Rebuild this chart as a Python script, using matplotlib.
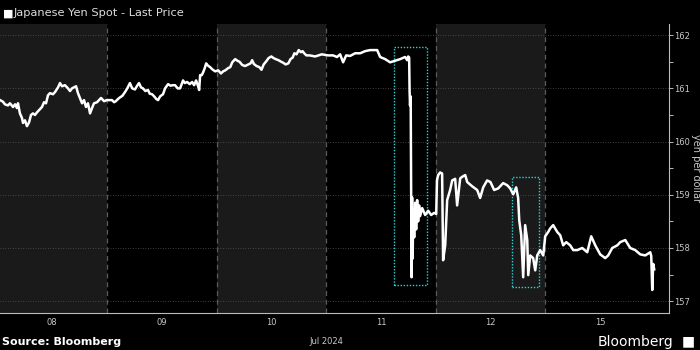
import matplotlib
matplotlib.use("Agg")
import matplotlib.pyplot as plt
from matplotlib.patches import Rectangle
from matplotlib.ticker import MultipleLocator

# ---- data (time in trading-day units from start of Jul 08; price in yen per dollar)
day_labels = ["08", "09", "10", "11", "12", "15"]
yticks = [157, 158, 159, 160, 161, 162]

t = [0.023, 0.050, 0.068, 0.096, 0.114, 0.142, 0.160, 0.178, 0.187, 0.205, 0.224, 0.233, 0.251,
     0.269, 0.288, 0.306, 0.324, 0.342, 0.361, 0.388, 0.406, 0.425, 0.443, 0.461, 0.479, 0.507,
     0.525, 0.553, 0.571, 0.589, 0.616, 0.644, 0.662, 0.680, 0.699, 0.717, 0.735, 0.753, 0.772,
     0.790, 0.808, 0.826, 0.845, 0.863, 0.881, 0.909, 0.927, 0.945, 0.973, 1.0,
     1.02, 1.045, 1.065, 1.081, 1.10, 1.118, 1.14, 1.164, 1.185, 1.209, 1.23, 1.255, 1.275, 1.292,
     1.31, 1.328, 1.35, 1.374, 1.39, 1.411, 1.43, 1.45, 1.466, 1.485, 1.511, 1.53, 1.557, 1.58, 1.60,
     1.621, 1.645, 1.667, 1.694, 1.71, 1.731, 1.755, 1.777, 1.795, 1.813, 1.83, 1.841, 1.85, 1.865,
     1.877, 1.892, 1.905, 1.92, 1.941, 1.96, 1.987, 2.015,
     2.04, 2.06, 2.08, 2.105, 2.125, 2.143, 2.17, 2.19, 2.21, 2.234, 2.26, 2.28, 2.31, 2.325, 2.34,
     2.365, 2.39, 2.41, 2.43, 2.45, 2.475, 2.50, 2.52, 2.54, 2.565, 2.59, 2.61, 2.63, 2.655, 2.675,
     2.695, 2.71, 2.73, 2.75, 2.77, 2.785, 2.80, 2.82, 2.85, 2.90, 2.96,
     3.018, 3.064, 3.10, 3.128, 3.155, 3.183, 3.219, 3.265, 3.311, 3.356, 3.402, 3.466, 3.493, 3.539,
     3.584, 3.63, 3.676, 3.721, 3.74, 3.749, 3.758, 3.762, 3.766, 3.772,
     3.776, 3.78, 3.785, 3.79, 3.795, 3.804, 3.813, 3.822, 3.831, 3.84, 3.849, 3.858, 3.877, 3.904,
     3.932, 3.959, 3.986,
     4.005, 4.012, 4.023, 4.041, 4.059, 4.068, 4.087, 4.105, 4.132, 4.151, 4.178, 4.196, 4.224, 4.251,
     4.27, 4.288, 4.333, 4.379, 4.406, 4.434, 4.47, 4.50, 4.534, 4.571, 4.616, 4.653, 4.68, 4.708,
     4.735, 4.753, 4.763, 4.781, 4.799, 4.817, 4.836, 4.845, 4.863, 4.89, 4.909, 4.927, 4.954, 4.982,
     5.00, 5.027, 5.046, 5.073, 5.11, 5.137, 5.164, 5.192, 5.228, 5.256, 5.292, 5.338, 5.384, 5.42,
     5.457, 5.502, 5.548, 5.575, 5.612, 5.658, 5.685, 5.731, 5.776, 5.822, 5.868, 5.913, 5.959, 5.968,
     5.977, 5.986, 5.995]

price = [160.78, 160.75, 160.70, 160.68, 160.72, 160.65, 160.70, 160.63, 160.72, 160.53, 160.44, 160.35,
         160.40, 160.29, 160.36, 160.50, 160.53, 160.50, 160.55, 160.61, 160.65, 160.74, 160.72, 160.87,
         160.91, 160.89, 160.93, 161.02, 161.10, 161.04, 161.06, 161.00, 160.95, 161.00, 161.02, 161.04,
         160.91, 160.82, 160.72, 160.78, 160.65, 160.72, 160.53, 160.63, 160.72, 160.74, 160.78, 160.82,
         160.76, 160.78,
         160.78, 160.78, 160.74, 160.76, 160.80, 160.83, 160.86, 160.93, 161.00, 161.10, 161.00, 160.98,
         161.05, 161.10, 161.02, 161.00, 160.95, 160.97, 160.90, 160.89, 160.85, 160.80, 160.78, 160.85,
         160.89, 161.00, 161.08, 161.05, 161.06, 161.06, 161.00, 161.00, 161.15, 161.10, 161.12, 161.08,
         161.12, 161.06, 161.15, 161.05, 160.97, 161.25, 161.25, 161.30, 161.38, 161.47, 161.43, 161.40,
         161.36, 161.32, 161.34,
         161.28, 161.32, 161.34, 161.38, 161.40, 161.49, 161.55, 161.52, 161.50, 161.44, 161.42, 161.44,
         161.47, 161.53, 161.46, 161.42, 161.40, 161.35, 161.45, 161.50, 161.57, 161.60, 161.57, 161.55,
         161.53, 161.50, 161.48, 161.45, 161.47, 161.55, 161.58, 161.66, 161.64, 161.72, 161.68, 161.70,
         161.66, 161.62, 161.62, 161.60, 161.64,
         161.62, 161.62, 161.59, 161.64, 161.49, 161.62, 161.61, 161.66, 161.66, 161.70, 161.72, 161.72,
         161.59, 161.55, 161.49, 161.52, 161.55, 161.59, 161.53, 161.60, 161.58, 160.95, 160.68, 160.85,
         159.18, 157.45, 158.95, 157.80, 158.70, 158.20, 158.85, 158.35, 158.90, 158.50, 158.80, 158.60,
         158.75, 158.62, 158.70, 158.62, 158.66,
         158.64, 159.27, 159.37, 159.42, 159.40, 157.77, 158.05, 158.90, 159.09, 159.27, 159.30, 158.80,
         159.31, 159.35, 159.37, 159.24, 159.16, 159.09, 158.94, 159.14, 159.27, 159.24, 159.09, 159.12,
         159.22, 159.18, 159.12, 159.01, 159.14, 158.94, 158.52, 158.24, 157.45, 158.43, 158.15, 157.49,
         157.86, 157.81, 157.58, 157.86, 157.96, 157.86,
         158.22, 158.30, 158.37, 158.43, 158.30, 158.24, 158.05, 158.11, 158.05, 157.96, 157.96, 158.00,
         157.92, 158.22, 158.05, 157.88, 157.81, 157.86, 158.00, 158.05, 158.11, 158.15, 158.00, 157.96,
         157.88, 157.86, 157.92, 157.85, 157.21, 157.70, 157.60]

# annotation boxes: (t_start, t_end, low, high)
boxes = [(3.62, 3.92, 157.30, 161.77), (4.70, 4.94, 157.26, 159.33)]

BG = "#000000"
BAND = "#1a1a1a"
TXT = "#c8c8c8"

fig = plt.figure(figsize=(7, 3.5), dpi=100, facecolor=BG)
ax = fig.add_axes([0.0, 0.106, 0.9557, 0.8254], facecolor=BG)

ndays = len(day_labels)
for i in range(ndays):
    if i % 2 == 0:
        ax.axvspan(i, i + 1, color=BAND, lw=0, zorder=0)
for i in range(1, ndays):
    ax.axvline(i, color="#5a5a5a", lw=0.9, ls=(0, (4, 3)), zorder=1)

for y in yticks:
    ax.axhline(y, color="#555555", lw=0.6, ls=(0, (1, 2)), zorder=1)

for (a, b, lo, hi) in boxes:
    ax.add_patch(Rectangle((a, lo), b - a, hi - lo, fill=False, ec="#2ad4d4",
                           lw=1.0, ls=(0, (1, 1.2)), zorder=2))

ax.plot(t, price, color="white", lw=1.8, zorder=3)

ax.set_xlim(0.023, 6.13)
ax.set_ylim(156.78, 162.21)

for s in ["top", "left"]:
    ax.spines[s].set_visible(False)
ax.spines["right"].set_color("#bbbbbb")
ax.spines["bottom"].set_color("#bbbbbb")
ax.spines["right"].set_linewidth(0.8)
ax.spines["bottom"].set_linewidth(0.8)

ax.yaxis.tick_right()
ax.yaxis.set_label_position("right")
ax.set_yticks(yticks)
ax.set_yticklabels([str(v) for v in yticks])
ax.yaxis.set_minor_locator(MultipleLocator(0.5))
ax.tick_params(axis="y", which="major", colors="#bbbbbb", labelcolor=TXT, labelsize=6,
               length=3, width=0.7, pad=1, direction="out")
ax.tick_params(axis="y", which="minor", colors="#bbbbbb", length=3, width=0.7, direction="out")
ax.set_ylabel("yen per dollar", rotation=270, color=TXT, fontsize=7, va="center", ha="center")
ax.yaxis.set_label_coords(1.041, 0.5)

ax.set_xticks([i + 0.5 for i in range(ndays)])
ax.set_xticklabels(day_labels)
ax.tick_params(axis="x", which="major", length=0, labelsize=6, labelcolor=TXT, pad=4)
ax.text(3.0, -0.1, "Jul 2024", transform=ax.get_xaxis_transform(), ha="center", va="center",
        fontsize=6, color=TXT)

# title with white square marker
fig.text(0.004, 0.962, "\u25A0", color="white", fontsize=8, va="center", ha="left")
fig.text(0.02, 0.962, "Japanese Yen Spot - Last Price", color="#dddddd", fontsize=8.2,
         va="center", ha="left")

fig.text(0.003, 0.022, "Source: Bloomberg", color="white", fontsize=8, fontweight="bold",
         va="center", ha="left")
fig.text(0.962, 0.024, "Bloomberg", color="white", fontsize=10, va="center", ha="right")
fig.text(0.983, 0.024, "\u25A0", color="white", fontsize=10, va="center", ha="center")

fig.savefig("out.png", dpi=100, facecolor=BG)
